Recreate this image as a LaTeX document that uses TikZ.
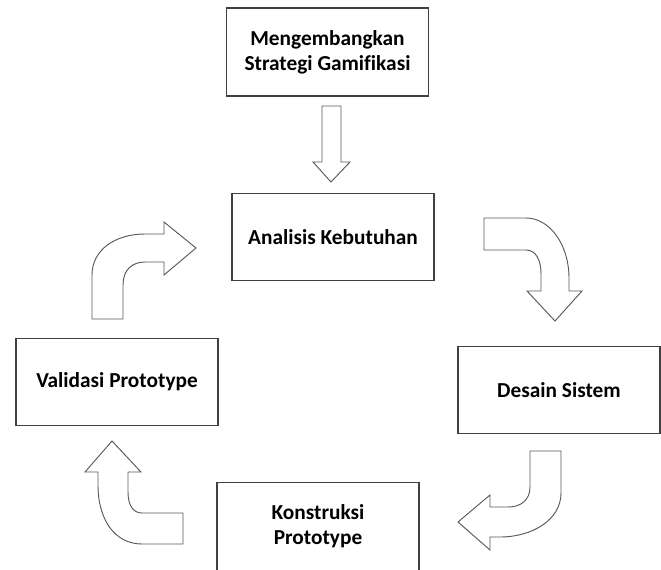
\documentclass[tikz,border=0pt]{standalone}
\usepackage{fontspec}
\setmainfont{Carlito}[Ligatures=NoCommon]
\begin{document}
\begin{tikzpicture}[x=0.75pt, y=-0.75pt,
    box/.style={draw=black!75, line width=0.9pt, minimum width=151.5pt, minimum height=65.25pt,
      inner sep=0pt, align=center, font=\fontsize{16}{19}\selectfont\bfseries},
    bigarrow/.style={draw=black!65, line width=0.7pt, fill=white, line join=miter}]
    \useasboundingbox (0,0) rectangle (661,569);
    % tahapan
    \node[box, minimum height=66pt] (strategi) at (327.5,52) {Mengembangkan\\Strategi Gamifikasi};
    \node[box] (analisis) at (333,237) {Analisis Kebutuhan};
    \node[box] (desain) at (559,390) {Desain Sistem};
    \node[box, minimum height=66pt] (konstruksi) at (318,526.5) {Konstruksi\\Prototype};
    \node[box] (validasi) at (117,382) {Validasi Prototype};
    % panah blok
    \draw[bigarrow] (322,106) -- (341,106) -- (341,162) -- (350,162) -- (331,182)
        -- (313,162) -- (322,162) -- cycle;
    \draw[bigarrow] (484,218) -- (526,218) .. controls (550,218) and (569,245) .. (569,278)
        -- (569,291) -- (582,291) -- (555,321) -- (527,291) -- (541,291) -- (541,274)
        .. controls (541,260) and (536,250) .. (526,250) -- (484,250) -- cycle;
    \draw[bigarrow] (530,451) -- (561,451) -- (561,493) .. controls (561,520) and (532,537) .. (500,537)
        -- (490,537) -- (490,550) -- (458,522) -- (490,495) -- (490,507) -- (508,507)
        .. controls (521,507) and (530,500) .. (530,487) -- cycle;
    \draw[bigarrow] (183,513) -- (142,513) .. controls (133,513) and (128,505) .. (128,492)
        -- (128,472) -- (141,472) -- (112,441) -- (85,472) -- (98,472) -- (98,485)
        .. controls (98,520) and (115,544) .. (142,544) -- (183,544) -- cycle;
    \draw[bigarrow] (92,319) -- (92,275) .. controls (92,250) and (115,234) .. (145,234)
        -- (164,234) -- (164,222) -- (196,248) -- (164,275) -- (164,262) -- (145,262)
        .. controls (132,262) and (123,270) .. (123,285) -- (123,319) -- cycle;
\end{tikzpicture}
\end{document}
